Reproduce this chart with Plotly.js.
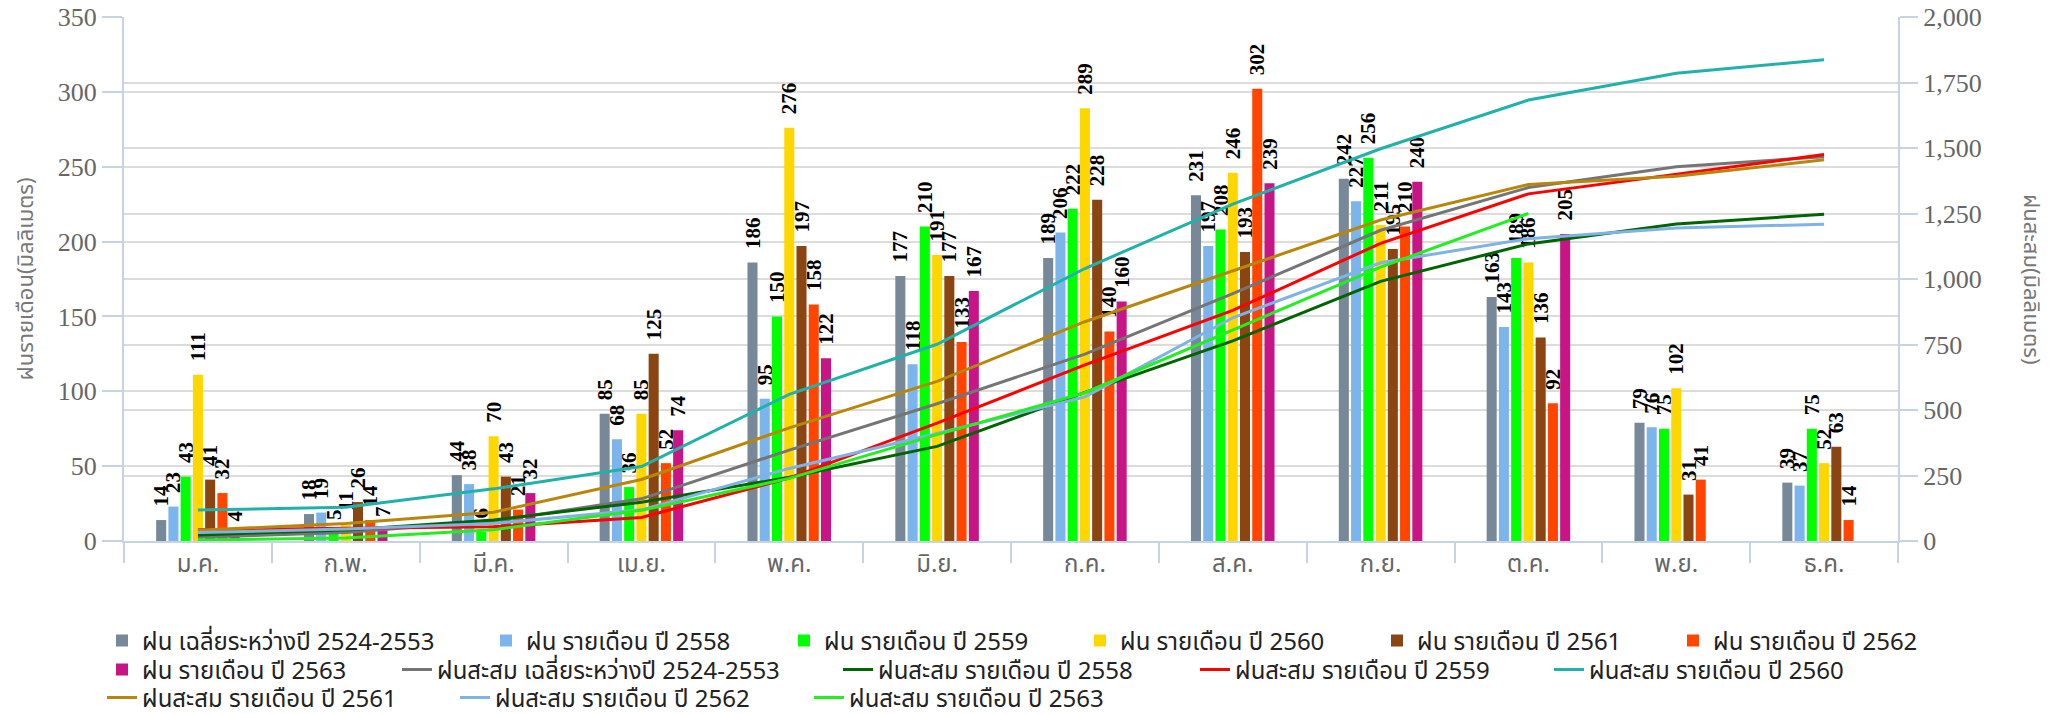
<!DOCTYPE html>
<html>
<head>
<meta charset="utf-8">
<script src="https://cdn.plot.ly/plotly-3.0.1.min.js"></script>
<style>
html,body{margin:0;padding:0;background:#fff;}
#chart{width:2050px;height:714px;}
</style>
</head>
<body>
<div id="chart"></div>
<script>
const months = ["ม.ค.","ก.พ.","มี.ค.","เม.ย.","พ.ค.","มิ.ย.","ก.ค.","ส.ค.","ก.ย.","ต.ค.","พ.ย.","ธ.ค."];

const rainAvg  = [14, 18, 44, 85, 186, 177, 189, 231, 242, 163, 79, 39];
const rain2558 = [23, 19, 38, 68, 95, 118, 206, 197, 227, 143, 76, 37];
const rain2559 = [43, 5, 6, 36, 150, 210, 222, 208, 256, 189, 75, 75];
const rain2560 = [111, 11, 70, 85, 276, 191, 289, 246, 211, 186, 102, 52];
const rain2561 = [41, 26, 43, 125, 197, 177, 228, 193, 195, 136, 31, 63];
const rain2562 = [32, 14, 21, 52, 158, 133, 140, 302, 210, 92, 41, 14];
const rain2563 = [4, 7, 32, 74, 122, 167, 160, 239, 240, 205, null, null];

const cumAvg  = [14, 32, 76, 161, 347, 524, 713, 944, 1186, 1349, 1428, 1467];
const cum2558 = [23, 42, 80, 148, 243, 361, 567, 764, 991, 1134, 1210, 1247];
const cum2559 = [43, 48, 54, 90, 240, 450, 672, 880, 1136, 1325, 1400, 1475];
const cum2560 = [118, 129, 199, 284, 560, 751, 1040, 1286, 1497, 1683, 1785, 1837];
const cum2561 = [41, 67, 110, 235, 432, 609, 837, 1030, 1225, 1361, 1392, 1455];
const cum2562 = [32, 46, 67, 119, 277, 410, 550, 852, 1062, 1154, 1195, 1209];
const cum2563 = [4, 11, 43, 117, 239, 406, 566, 805, 1045, 1250, null, null];

const barNames = ["ฝน เฉลี่ยระหว่างปี 2524-2553","ฝน รายเดือน ปี 2558","ฝน รายเดือน ปี 2559","ฝน รายเดือน ปี 2560","ฝน รายเดือน ปี 2561","ฝน รายเดือน ปี 2562","ฝน รายเดือน ปี 2563"];
const lineNames = ["ฝนสะสม เฉลี่ยระหว่างปี 2524-2553","ฝนสะสม รายเดือน ปี 2558","ฝนสะสม รายเดือน ปี 2559","ฝนสะสม รายเดือน ปี 2560","ฝนสะสม รายเดือน ปี 2561","ฝนสะสม รายเดือน ปี 2562","ฝนสะสม รายเดือน ปี 2563"];

const barColors = ["#778899","#7cb5ec","#00ff00","#ffd700","#8b4513","#ff4500","#c71585"];
const lineColors = ["#757575","#006400","#ff0000","#20b2aa","#b8860b","#7fb2e5","#22ee22"];

const barData = [rainAvg, rain2558, rain2559, rain2560, rain2561, rain2562, rain2563];
const lineData = [cumAvg, cum2558, cum2559, cum2560, cum2561, cum2562, cum2563];

// legend entry positions (left edge of symbol, row centre) in page pixels
const legendX = [110, 494, 792, 1088, 1385, 1681, 110, 405, 846, 1203, 1557, 110, 463, 817];
const legendY = [641, 641, 641, 641, 641, 641, 670, 670, 670, 670, 670, 698, 698, 698];

const thaiFont = "'Noto Sans Thai', 'Noto Serif Thai', 'Loma', 'Garuda', 'Liberation Serif', serif";

const traces = [];
barData.forEach((d, i) => {
  traces.push({
    type: 'bar', x: months, y: d, name: barNames[i],
    legend: i === 0 ? 'legend' : 'legend' + (i + 1),
    marker: {color: barColors[i]},
    text: d.map(v => v == null ? '' : '\u00a0\u00a0' + v),
    texttemplate: '<b>%{text}</b>',
    textposition: 'outside', textangle: -90,
    textfont: {family: "'Liberation Serif', 'Times New Roman', serif", size: 21, color: '#000'},
    constraintext: 'none', cliponaxis: false,
    hoverinfo: 'skip', yaxis: 'y'
  });
});
lineData.forEach((d, i) => {
  traces.push({
    type: 'scatter', mode: 'lines', x: months, y: d, name: lineNames[i],
    legend: 'legend' + (i + 8),
    line: {color: lineColors[i], width: 3},
    hoverinfo: 'skip', yaxis: 'y2', connectgaps: false
  });
});

const legFont = {family: thaiFont, size: 24, color: '#222'};
function leg(px, py) {
  return {
    orientation: 'h', xref: 'container', yref: 'container',
    x: (px - 8) / 2050, xanchor: 'left', y: (714 - py) / 714, yanchor: 'middle',
    font: legFont, itemwidth: 30, bgcolor: 'rgba(0,0,0,0)', borderwidth: 0
  };
}

const axisCol = '#c5d3e3';
const layout = {
  width: 2050, height: 714,
  margin: {l: 124, r: 152, t: 17, b: 173, autoexpand: false},
  paper_bgcolor: '#fff', plot_bgcolor: '#fff',
  barmode: 'group', bargap: 0.42, bargroupgap: 0.18,
  showlegend: true,
  xaxis: {
    type: 'category', tickson: 'boundaries', ticks: 'outside', ticklen: 20,
    tickcolor: axisCol, tickwidth: 2, showline: true, linecolor: axisCol, linewidth: 2,
    showgrid: false, zeroline: false,
    tickfont: {family: thaiFont, size: 24, color: '#666'}
  },
  yaxis: {
    range: [0, 350], dtick: 50, tick0: 0,
    showline: true, linecolor: axisCol, linewidth: 2,
    ticks: 'outside', ticklen: 20, tickcolor: axisCol, tickwidth: 2,
    showgrid: true, gridcolor: '#dcdcdc', gridwidth: 2, zeroline: false,
    tickfont: {family: "'Liberation Serif', serif", size: 26, color: '#666'},
    title: {text: 'ฝนรายเดือน(มิลลิเมตร)', font: {family: thaiFont, size: 22, color: '#777'}, standoff: 18}
  },
  yaxis2: {
    overlaying: 'y', side: 'right', range: [0, 2000], dtick: 250, tick0: 0,
    tickformat: ',d',
    showline: true, linecolor: axisCol, linewidth: 2,
    ticks: 'outside', ticklen: 18, tickcolor: axisCol, tickwidth: 2,
    showgrid: true, gridcolor: '#dcdcdc', gridwidth: 2, zeroline: false,
    tickfont: {family: "'Liberation Serif', serif", size: 26, color: '#666'}
  },
  annotations: [{
    text: 'ฝนสะสม(มิลลิเมตร)', xref: 'paper', yref: 'paper', x: 1.0, xshift: 133, y: 0.5,
    textangle: 90, showarrow: false, xanchor: 'center', yanchor: 'middle',
    font: {family: thaiFont, size: 22, color: '#777'}
  }]
};
legendX.forEach((px, k) => {
  layout[k === 0 ? 'legend' : 'legend' + (k + 1)] = leg(px, legendY[k]);
});

Plotly.newPlot('chart', traces, layout, {displayModeBar: false, staticPlot: true});
</script>
</body>
</html>
